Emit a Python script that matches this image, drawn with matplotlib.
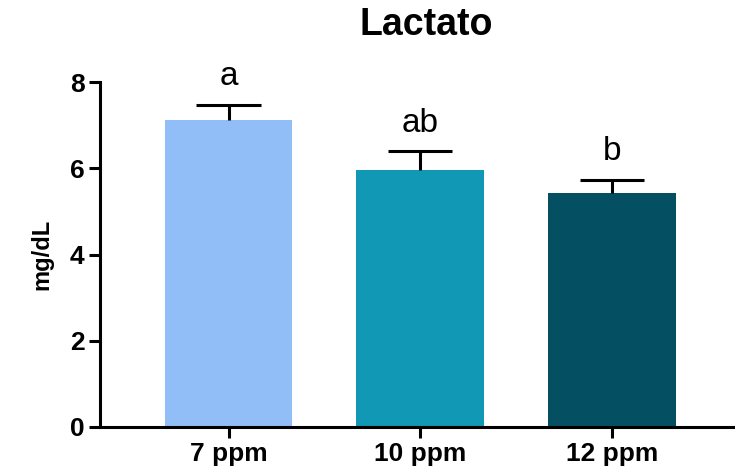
import matplotlib
matplotlib.use('Agg')
from matplotlib import pyplot as plt
import numpy as np

plt.rcParams['font.family'] = ['Liberation Sans', 'DejaVu Sans']

groups = ['7 ppm', '10 ppm', '12 ppm']
means = [7.12, 5.96, 5.42]
sem = [0.35, 0.43, 0.31]
letters = ['a', 'ab', 'b']
colors = ['#92BEF7', '#1198B4', '#054F63']

fig = plt.figure(figsize=(7.35, 4.7), dpi=100)
ax = fig.add_axes([0.136, 0.0915, 0.864, 0.734])

x = np.arange(len(groups))
top = np.array(means) + np.array(sem)
ax.bar(x, means, width=0.667, color=colors, zorder=2)
# only the upper half of the error bar, like Prism
ax.vlines(x, means, top, color='black', linewidth=2.2, zorder=3)
ax.hlines(top, x - 0.167, x + 0.167, color='black', linewidth=2.2, zorder=3)

for i, l in enumerate(letters):
    ax.annotate(l, (i, top[i]), xytext=(0, 9), textcoords='offset points',
                ha='center', va='bottom', fontsize=24)

ax.set_xlim(-0.67, 2.64)
ax.set_ylim(0, 8)
ax.set_yticks([0, 2, 4, 6, 8])
ax.set_xticks(x)
ax.set_xticklabels(groups, fontsize=19, fontweight='bold')
for t in ax.get_yticklabels():
    t.set_fontsize(19)
    t.set_fontweight('bold')
ax.set_ylabel('mg/dL', fontsize=17, fontweight='bold', labelpad=12)

for side in ['top', 'right']:
    ax.spines[side].set_visible(False)
for side in ['left', 'bottom']:
    ax.spines[side].set_linewidth(2.2)
ax.tick_params(width=2.2, length=8, pad=3)

fig.text(0.58, 0.947, 'Lactato', ha='center', va='center', fontsize=27, fontweight='bold')

fig.savefig('out.png', dpi=100)
